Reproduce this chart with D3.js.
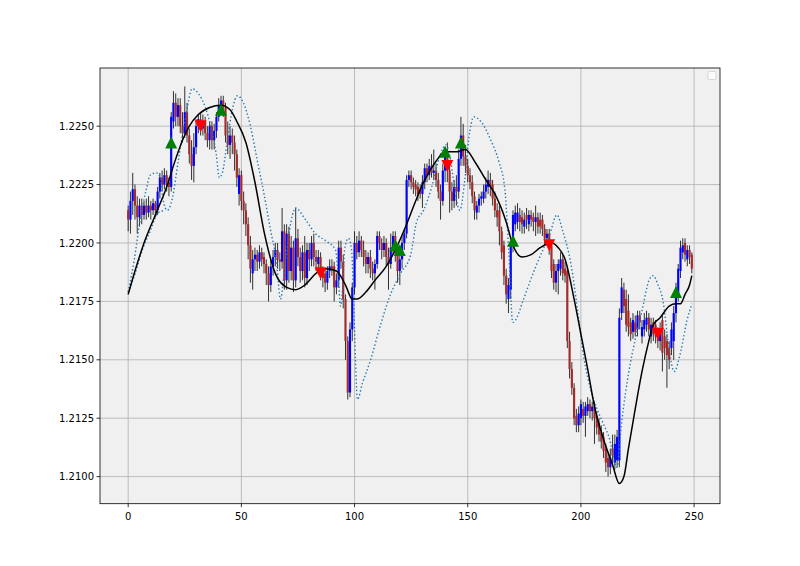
<!DOCTYPE html>
<html><head><meta charset="utf-8">
<script src="https://cdn.jsdelivr.net/npm/d3@7"></script>
<style>body{margin:0;background:#fff}svg{display:block}text{font-family:"DejaVu Sans",sans-serif}</style>
</head><body><svg id="c" width="800" height="566"></svg>
<script>
const open=[1.2214,1.2210,1.2218,1.2223,1.2216,1.2211,1.2216,1.2212,1.2216,1.2213,
1.2216,1.2214,1.2217,1.2214,1.2222,1.2228,1.2225,1.2229,1.2226,1.2224,
1.2252,1.2260,1.2254,1.2259,1.2250,1.2247,1.2256,1.2246,1.2238,1.2233,
1.2241,1.2250,1.2253,1.2249,1.2252,1.2247,1.2244,1.2250,1.2244,1.2248,
1.2254,1.2259,1.2261,1.2258,1.2246,1.2242,1.2246,1.2243,1.2238,1.2221,
1.2229,1.2218,1.2214,1.2208,1.2199,1.2187,1.2193,1.2195,1.2192,1.2196,
1.2194,1.2191,1.2187,1.2182,1.2190,1.2194,1.2197,1.2193,1.2192,1.2205,
1.2184,1.2204,1.2188,1.2198,1.2184,1.2202,1.2194,1.2188,1.2196,1.2185,
1.2197,1.2193,1.2200,1.2194,1.2191,1.2194,1.2188,1.2187,1.2183,1.2188,
1.2190,1.2190,1.2181,1.2184,1.2198,1.2192,1.2176,1.2158,1.2136,1.2163,
1.2181,1.2200,1.2196,1.2201,1.2197,1.2194,1.2191,1.2194,1.2189,1.2187,
1.2191,1.2203,1.2200,1.2197,1.2200,1.2194,1.2191,1.2198,1.2203,1.2196,
1.2188,1.2193,1.2200,1.2204,1.2227,1.2229,1.2226,1.2225,1.2224,1.2223,
1.2221,1.2226,1.2232,1.2229,1.2233,1.2230,1.2231,1.2227,1.2222,1.2218,
1.2231,1.2238,1.2231,1.2222,1.2218,1.2224,1.2222,1.2236,1.2246,1.2237,
1.2233,1.2229,1.2226,1.2220,1.2213,1.2216,1.2219,1.2219,1.2222,1.2224,
1.2227,1.2225,1.2219,1.2214,1.2214,1.2205,1.2199,1.2186,1.2176,1.2180,
1.2199,1.2208,1.2209,1.2212,1.2211,1.2207,1.2212,1.2208,1.2212,1.2211,
1.2209,1.2211,1.2210,1.2210,1.2206,1.2202,1.2204,1.2199,1.2191,1.2183,
1.2188,1.2189,1.2193,1.2189,1.2188,1.2158,1.2146,1.2138,1.2126,1.2122,
1.2125,1.2129,1.2126,1.2128,1.2131,1.2128,1.2130,1.2126,1.2123,1.2119,
1.2117,1.2112,1.2108,1.2104,1.2112,1.2106,1.2107,1.2107,1.2170,1.2180,
1.2176,1.2171,1.2166,1.2162,1.2166,1.2163,1.2169,1.2160,1.2163,1.2165,
1.2168,1.2160,1.2166,1.2165,1.2162,1.2158,1.2167,1.2160,1.2158,1.2155,
1.2155,1.2158,1.2170,1.2178,1.2188,1.2196,1.2200,1.2193,1.2197,1.2195];
const high=[1.2216,1.2222,1.2230,1.2225,1.2220,1.2219,1.2219,1.2218,1.2219,1.2220,
1.2218,1.2219,1.2218,1.2224,1.2230,1.2231,1.2232,1.2231,1.2228,1.2256,
1.2265,1.2264,1.2262,1.2262,1.2256,1.2267,1.2260,1.2249,1.2244,1.2247,
1.2253,1.2255,1.2256,1.2255,1.2254,1.2250,1.2252,1.2252,1.2251,1.2256,
1.2262,1.2263,1.2263,1.2260,1.2252,1.2250,1.2249,1.2246,1.2240,1.2232,
1.2231,1.2222,1.2217,1.2211,1.2203,1.2197,1.2198,1.2197,1.2199,1.2198,
1.2196,1.2193,1.2190,1.2193,1.2197,1.2200,1.2200,1.2196,1.2215,1.2208,
1.2208,1.2207,1.2203,1.2201,1.2215,1.2206,1.2198,1.2199,1.2203,1.2200,
1.2200,1.2203,1.2204,1.2197,1.2197,1.2196,1.2190,1.2189,1.2190,1.2193,
1.2193,1.2192,1.2187,1.2201,1.2201,1.2195,1.2178,1.2160,1.2166,1.2183,
1.2205,1.2203,1.2205,1.2203,1.2201,1.2197,1.2196,1.2197,1.2192,1.2193,
1.2205,1.2205,1.2202,1.2203,1.2202,1.2198,1.2204,1.2205,1.2205,1.2199,
1.2197,1.2203,1.2206,1.2229,1.2231,1.2231,1.2228,1.2227,1.2226,1.2225,
1.2229,1.2234,1.2234,1.2236,1.2238,1.2240,1.2234,1.2230,1.2225,1.2234,
1.2241,1.2243,1.2234,1.2226,1.2227,1.2229,1.2240,1.2254,1.2251,1.2242,
1.2236,1.2232,1.2229,1.2222,1.2218,1.2221,1.2222,1.2225,1.2228,1.2231,
1.2230,1.2227,1.2222,1.2217,1.2216,1.2207,1.2201,1.2189,1.2185,1.2201,
1.2214,1.2216,1.2217,1.2215,1.2214,1.2213,1.2215,1.2214,1.2214,1.2213,
1.2216,1.2213,1.2213,1.2212,1.2208,1.2206,1.2206,1.2201,1.2193,1.2191,
1.2193,1.2196,1.2195,1.2192,1.2190,1.2162,1.2149,1.2140,1.2129,1.2130,
1.2133,1.2132,1.2132,1.2134,1.2133,1.2132,1.2132,1.2128,1.2125,1.2122,
1.2119,1.2114,1.2110,1.2112,1.2118,1.2118,1.2120,1.2172,1.2185,1.2183,
1.2180,1.2178,1.2168,1.2170,1.2169,1.2171,1.2171,1.2167,1.2170,1.2171,
1.2170,1.2168,1.2168,1.2167,1.2164,1.2166,1.2169,1.2163,1.2161,1.2158,
1.2166,1.2173,1.2183,1.2191,1.2201,1.2202,1.2202,1.2199,1.2199,1.2196];
const low=[1.2205,1.2204,1.2212,1.2210,1.2204,1.2207,1.2208,1.2210,1.2210,1.2211,
1.2210,1.2212,1.2211,1.2212,1.2219,1.2222,1.2223,1.2222,1.2220,1.2222,
1.2249,1.2250,1.2250,1.2247,1.2243,1.2245,1.2243,1.2234,1.2227,1.2226,
1.2238,1.2247,1.2246,1.2246,1.2244,1.2241,1.2240,1.2240,1.2240,1.2245,
1.2252,1.2255,1.2254,1.2243,1.2238,1.2236,1.2238,1.2231,1.2224,1.2216,
1.2214,1.2208,1.2203,1.2193,1.2183,1.2180,1.2188,1.2188,1.2189,1.2190,
1.2187,1.2182,1.2175,1.2179,1.2186,1.2190,1.2189,1.2188,1.2189,1.2180,
1.2180,1.2183,1.2184,1.2179,1.2181,1.2190,1.2183,1.2184,1.2181,1.2182,
1.2188,1.2190,1.2190,1.2188,1.2188,1.2184,1.2181,1.2179,1.2180,1.2185,
1.2186,1.2175,1.2178,1.2181,1.2189,1.2172,1.2150,1.2133,1.2134,1.2158,
1.2178,1.2193,1.2194,1.2194,1.2190,1.2187,1.2187,1.2185,1.2184,1.2180,
1.2189,1.2197,1.2193,1.2194,1.2190,1.2180,1.2189,1.2195,1.2192,1.2183,
1.2182,1.2189,1.2197,1.2202,1.2224,1.2223,1.2221,1.2220,1.2218,1.2219,
1.2215,1.2223,1.2226,1.2227,1.2228,1.2227,1.2224,1.2219,1.2210,1.2216,
1.2226,1.2226,1.2213,1.2214,1.2215,1.2216,1.2219,1.2233,1.2233,1.2230,
1.2226,1.2223,1.2217,1.2210,1.2210,1.2213,1.2216,1.2217,1.2219,1.2221,
1.2220,1.2216,1.2211,1.2207,1.2199,1.2193,1.2182,1.2174,1.2170,1.2176,
1.2196,1.2205,1.2206,1.2205,1.2204,1.2204,1.2206,1.2205,1.2207,1.2205,
1.2203,1.2204,1.2204,1.2203,1.2199,1.2199,1.2195,1.2185,1.2180,1.2179,
1.2178,1.2186,1.2184,1.2183,1.2155,1.2142,1.2135,1.2122,1.2119,1.2119,
1.2122,1.2123,1.2117,1.2126,1.2125,1.2124,1.2114,1.2118,1.2115,1.2112,
1.2108,1.2102,1.2100,1.2101,1.2105,1.2103,1.2104,1.2104,1.2167,1.2170,
1.2162,1.2160,1.2158,1.2159,1.2160,1.2160,1.2163,1.2157,1.2160,1.2162,
1.2160,1.2157,1.2158,1.2157,1.2155,1.2154,1.2145,1.2150,1.2138,1.2146,
1.2152,1.2150,1.2166,1.2175,1.2185,1.2193,1.2192,1.2190,1.2191,1.2187];
const close=[1.2210,1.2218,1.2223,1.2216,1.2211,1.2216,1.2212,1.2216,1.2213,1.2216,
1.2214,1.2217,1.2214,1.2222,1.2228,1.2225,1.2229,1.2226,1.2224,1.2254,
1.2260,1.2254,1.2259,1.2250,1.2247,1.2256,1.2246,1.2238,1.2233,1.2241,
1.2250,1.2253,1.2249,1.2252,1.2247,1.2244,1.2250,1.2244,1.2248,1.2254,
1.2259,1.2261,1.2258,1.2246,1.2242,1.2246,1.2243,1.2238,1.2228,1.2229,
1.2218,1.2214,1.2208,1.2199,1.2189,1.2193,1.2195,1.2192,1.2196,1.2193,
1.2191,1.2187,1.2182,1.2190,1.2194,1.2197,1.2193,1.2192,1.2205,1.2184,
1.2204,1.2188,1.2198,1.2184,1.2202,1.2194,1.2188,1.2196,1.2185,1.2197,
1.2193,1.2200,1.2194,1.2192,1.2194,1.2188,1.2185,1.2183,1.2188,1.2190,
1.2189,1.2181,1.2184,1.2198,1.2192,1.2176,1.2158,1.2136,1.2163,1.2181,
1.2200,1.2196,1.2201,1.2197,1.2194,1.2191,1.2194,1.2189,1.2187,1.2191,
1.2203,1.2200,1.2197,1.2200,1.2194,1.2191,1.2198,1.2203,1.2196,1.2188,
1.2193,1.2200,1.2204,1.2227,1.2229,1.2226,1.2224,1.2223,1.2221,1.2221,
1.2226,1.2232,1.2229,1.2233,1.2230,1.2231,1.2227,1.2222,1.2218,1.2231,
1.2238,1.2231,1.2222,1.2218,1.2224,1.2222,1.2236,1.2246,1.2237,1.2233,
1.2229,1.2226,1.2220,1.2214,1.2216,1.2219,1.2220,1.2222,1.2225,1.2227,
1.2224,1.2219,1.2214,1.2211,1.2205,1.2196,1.2186,1.2178,1.2182,1.2199,
1.2212,1.2213,1.2213,1.2209,1.2208,1.2210,1.2210,1.2212,1.2210,1.2209,
1.2211,1.2207,1.2207,1.2206,1.2202,1.2204,1.2198,1.2188,1.2183,1.2188,
1.2191,1.2193,1.2187,1.2186,1.2158,1.2146,1.2138,1.2125,1.2122,1.2127,
1.2131,1.2126,1.2130,1.2131,1.2128,1.2130,1.2125,1.2121,1.2118,1.2115,
1.2111,1.2106,1.2104,1.2108,1.2109,1.2114,1.2117,1.2168,1.2181,1.2173,
1.2165,1.2164,1.2161,1.2167,1.2162,1.2169,1.2166,1.2164,1.2167,1.2168,
1.2163,1.2165,1.2161,1.2160,1.2158,1.2163,1.2153,1.2155,1.2152,1.2150,
1.2163,1.2170,1.2180,1.2189,1.2198,1.2199,1.2195,1.2197,1.2194,1.2189];

const smoothIdx=[0,3,7,12,17,21,24,27,31,36,41,45,48,52,56,60,65,70,74,78,83,87,92,96,99,101,105,109,114,118,123,127,131,136,140,145,149,153,158,162,167,170,174,178,182,187,190,193,197,200,203,206,210,214,217,219,221,224,227,230,232,235,239,242,244,246,248,249];
const smoothVal=[1.2178,1.2188,1.2200,1.2212,1.2224,1.2236,1.2244,1.2250,1.2255,1.2258,1.2259,1.2257,1.2252,1.2243,1.2226,1.2205,1.2187,1.2181,1.2180,1.2182,1.2187,1.2189,1.2188,1.2182,1.2176,1.2176,1.2179,1.2184,1.2190,1.2197,1.2208,1.2218,1.2227,1.2235,1.2239,1.2239,1.2240,1.2235,1.2227,1.2221,1.2209,1.2199,1.2194,1.2195,1.2198,1.2200,1.2198,1.2193,1.2176,1.2161,1.2146,1.2130,1.2116,1.2105,1.2097,1.2100,1.2112,1.2129,1.2145,1.2158,1.2165,1.2168,1.2173,1.2174,1.2174,1.2178,1.2182,1.2186];

const bandAIdx=[0,2.7,5.3,8,9.7,12.4,14.2,15.5,17.3,19.5,22.1,25.2,28.3,31,34.1,36.7,38.9,40.3,41.6,43.8,46,48.2,50.9,54,57.1,60.2,62.8,65.5,67.3,69,71.2,73.9,78.3,82.7,87.2,91.6,92.9,93.8,94.7,95.6,97.3,98.7,99.6,100.4,101.3,103.5,107.1,111.5,115.9,120.4,124.8,127.4,130.5,134.1,137.6,140.3,142.5,144.7,146.5,148.7,150.4,152.7,155.8,160.2,163.7,166.4,168.1,169.9,171.7,174.3,180.1,186.3,189.4,192,195.6,198.7,201.3,204.4,207.5,210.2,212.4,215.9,218.1,221.2,224.3,227,230.1,231.9,234.1,236.3,238.5,241.2,244.2,246.9,249.1];
const bandAVal=[1.2179,1.2193,1.2210,1.2223,1.2229,1.2230,1.2228,1.2218,1.2214,1.2219,1.2235,1.2253,1.2266,1.2264,1.2258,1.2249,1.2238,1.2228,1.2230,1.2244,1.2257,1.2263,1.2260,1.2250,1.2235,1.2220,1.2206,1.2192,1.2176,1.2188,1.2205,1.2215,1.2210,1.2204,1.2201,1.2197,1.2184,1.2173,1.2180,1.2197,1.2202,1.2197,1.2175,1.2150,1.2133,1.2140,1.2150,1.2165,1.2178,1.2187,1.2195,1.2209,1.2214,1.2224,1.2237,1.2242,1.2235,1.2220,1.2214,1.2227,1.2244,1.2254,1.2252,1.2244,1.2235,1.2223,1.2197,1.2166,1.2168,1.2175,1.2190,1.2204,1.2212,1.2205,1.2191,1.2170,1.2151,1.2137,1.2128,1.2122,1.2117,1.2104,1.2124,1.2145,1.2160,1.2171,1.2184,1.2186,1.2182,1.2175,1.2158,1.2145,1.2154,1.2167,1.2174];
const bandBIdx=[0,3.1,6.2,9.7,13.3,16.4];
const bandBVal=[1.2179,1.2187,1.2197,1.2205,1.2213,1.2214];

const buyIdx=[19,41,118,120,140,147,170,242];
const buyVal=[1.2243,1.2257,1.2199,1.2197,1.2239,1.2243,1.2201,1.2179];
const sellIdx=[32,85,141,186,234];
const sellVal=[1.2250,1.2187,1.2233,1.2199,1.2161];

const xTicks=[0,50,100,150,200,250];
const yTicks=[1.2100,1.2125,1.2150,1.2175,1.2200,1.2225,1.2250];

const L=100,R=720,T=68,B=503.7;
const svg=d3.select("#c");
const x=d3.scaleLinear().domain([-12.45,261.45]).range([L,R]);
const y=d3.scaleLinear().domain([1.20884,1.22749]).range([B,T]);

svg.append("rect").attr("x",L).attr("y",T).attr("width",R-L).attr("height",B-T).attr("fill","#f0f0f0");
svg.append("clipPath").attr("id","cp").append("rect").attr("x",L).attr("y",T).attr("width",R-L).attr("height",B-T);
const g=svg.append("g");
g.selectAll(".gx").data(xTicks).join("line").attr("x1",d=>x(d)).attr("x2",d=>x(d)).attr("y1",T).attr("y2",B).attr("stroke","#b0b0b0").attr("stroke-width",0.8);
g.selectAll(".gy").data(yTicks).join("line").attr("x1",L).attr("x2",R).attr("y1",d=>y(d)).attr("y2",d=>y(d)).attr("stroke","#b0b0b0").attr("stroke-width",0.8);

const pg=svg.append("g").attr("clip-path","url(#cp)");
const idx=d3.range(close.length);
pg.selectAll(".wk").data(idx).join("line").attr("x1",i=>x(i)).attr("x2",i=>x(i)).attr("y1",i=>y(high[i])).attr("y2",i=>y(low[i])).attr("stroke","#000").attr("stroke-width",0.8);
const bw=x(0.95)-x(0);
pg.selectAll(".bd").data(idx).join("rect")
 .attr("x",i=>x(i)-bw/2).attr("width",bw)
 .attr("y",i=>y(Math.max(open[i],close[i])))
 .attr("height",i=>Math.max(0.8,Math.abs(y(open[i])-y(close[i]))))
 .attr("fill",i=>close[i]>=open[i]?"#0000ff":"#a52a2a");

const lineFn=d3.line().x(d=>x(d[0])).y(d=>y(d[1])).curve(d3.curveMonotoneX);
pg.append("path").datum(bandAIdx.map((d,k)=>[d,bandAVal[k]])).attr("d",lineFn).attr("fill","none").attr("stroke","#1f77b4").attr("stroke-width",1.4).attr("stroke-dasharray","1.4,2.3");
pg.append("path").datum(bandBIdx.map((d,k)=>[d,bandBVal[k]])).attr("d",lineFn).attr("fill","none").attr("stroke","#1f77b4").attr("stroke-width",1.4).attr("stroke-dasharray","1.4,2.3");
pg.append("path").datum(smoothIdx.map((d,k)=>[d,smoothVal[k]])).attr("d",lineFn).attr("fill","none").attr("stroke","#000").attr("stroke-width",1.5);

const s=6;
pg.selectAll(".buy").data(buyIdx).join("path").attr("transform",(d,k)=>`translate(${x(d)},${y(buyVal[k])})`).attr("d",`M0,${-s}L${-s},${s}L${s},${s}Z`).attr("fill","#008000");
pg.selectAll(".sell").data(sellIdx).join("path").attr("transform",(d,k)=>`translate(${x(d)},${y(sellVal[k])})`).attr("d",`M0,${s}L${-s},${-s}L${s},${-s}Z`).attr("fill","#ff0000");

svg.append("rect").attr("x",L).attr("y",T).attr("width",R-L).attr("height",B-T).attr("fill","none").attr("stroke","#000").attr("stroke-width",0.8);
svg.selectAll(".tx").data(xTicks).join("line").attr("x1",d=>x(d)).attr("x2",d=>x(d)).attr("y1",B).attr("y2",B+3.5).attr("stroke","#000").attr("stroke-width",0.8);
svg.selectAll(".tlx").data(xTicks).join("text").attr("x",d=>x(d)).attr("y",B+16).attr("text-anchor","middle").attr("font-size",10).text(d=>d);
svg.selectAll(".ty").data(yTicks).join("line").attr("x1",L-3.5).attr("x2",L).attr("y1",d=>y(d)).attr("y2",d=>y(d)).attr("stroke","#000").attr("stroke-width",0.8);
svg.selectAll(".tly").data(yTicks).join("text").attr("x",L-6).attr("y",d=>y(d)+3.6).attr("text-anchor","end").attr("font-size",10).text(d=>d.toFixed(4));
svg.append("rect").attr("x",708).attr("y",71.5).attr("width",8).attr("height",8).attr("rx",1.5).attr("fill","#fff").attr("fill-opacity",0.8).attr("stroke","#ccc").attr("stroke-width",0.8);
</script></body></html>
